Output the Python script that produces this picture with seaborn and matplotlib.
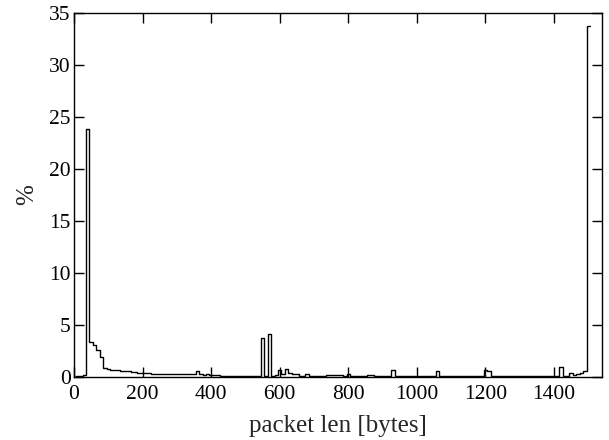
import numpy as np
import pandas as pd
import seaborn as sns
import matplotlib.pyplot as plt

# bin centers (bytes), 10-byte bins
bin_centers = list(range(0, 1501, 10))
# percentage of packets per bin
percent = [
    0.00, 0.02, 0.05, 0.20, 23.8, 3.30, 3.00, 2.60, 1.90, 0.80,      # 0-90
    0.72, 0.68, 0.64, 0.60, 0.55, 0.52, 0.50, 0.45, 0.42, 0.40,      # 100-190
    0.38, 0.35, 0.33, 0.30, 0.28, 0.26, 0.24, 0.22, 0.25, 0.28,      # 200-290
    0.30, 0.27, 0.30, 0.28, 0.26, 0.25, 0.50, 0.25, 0.20, 0.30,      # 300-390
    0.20, 0.15, 0.12, 0.10, 0.10, 0.10, 0.09, 0.09, 0.08, 0.08,      # 400-490
    0.08, 0.08, 0.07, 0.08, 0.10, 3.70, 0.10, 4.10, 0.10, 0.15,      # 500-590
    0.60, 0.25, 0.75, 0.35, 0.30, 0.25, 0.10, 0.10, 0.22, 0.04,      # 600-690
    0.03, 0.03, 0.03, 0.04, 0.12, 0.12, 0.12, 0.20, 0.20, 0.08,      # 700-790
    0.30, 0.10, 0.04, 0.04, 0.10, 0.10, 0.20, 0.20, 0.05, 0.04,      # 800-890
    0.04, 0.04, 0.04, 0.64, 0.04, 0.04, 0.04, 0.04, 0.04, 0.04,      # 900-990
    0.10, 0.04, 0.04, 0.04, 0.04, 0.04, 0.55, 0.03, 0.03, 0.03,      # 1000-1090
    0.03, 0.03, 0.03, 0.03, 0.03, 0.03, 0.10, 0.10, 0.03, 0.03,      # 1100-1190
    0.64, 0.50, 0.03, 0.03, 0.10, 0.03, 0.03, 0.03, 0.03, 0.03,      # 1200-1290
    0.06, 0.03, 0.03, 0.03, 0.03, 0.03, 0.03, 0.03, 0.03, 0.03,      # 1300-1390
    0.05, 0.05, 0.95, 0.05, 0.05, 0.35, 0.15, 0.25, 0.40, 0.55,      # 1400-1490
    33.7,                                                            # 1500
]

x_ticks = [0, 200, 400, 600, 800, 1000, 1200, 1400]
y_ticks = [0, 5, 10, 15, 20, 25, 30, 35]

df = pd.DataFrame({"len": bin_centers, "pct": percent})
edges = [c - 5 for c in bin_centers] + [bin_centers[-1] + 5]

sns.set_theme(style="ticks")
plt.rcParams['font.family'] = ['Liberation Serif', 'DejaVu Serif']
plt.rcParams['axes.linewidth'] = 1.0

fig = plt.figure(figsize=(6.09, 4.4), dpi=100)
ax = fig.add_axes([0.1215, 0.1439, 0.8670, 0.8272])

sns.histplot(data=df, x="len", weights="pct", bins=edges, element="step",
             fill=False, color="black", linewidth=1.0, ax=ax)

ax.set_xlim(0, 1540)
ax.set_ylim(0, 35)
ax.set_xticks(x_ticks)
ax.set_yticks(y_ticks)
ax.tick_params(direction='in', top=True, right=True, length=7, width=1,
               labelsize=15.5, colors='black')
ax.tick_params(axis='x', pad=6)
ax.tick_params(axis='y', pad=2.5)
for s in ax.spines.values():
    s.set_color('black')
ax.set_xlabel('packet len [bytes]', fontsize=18, labelpad=8)
ax.set_ylabel('%', fontsize=18, labelpad=8)

fig.savefig("out.png", dpi=100)
